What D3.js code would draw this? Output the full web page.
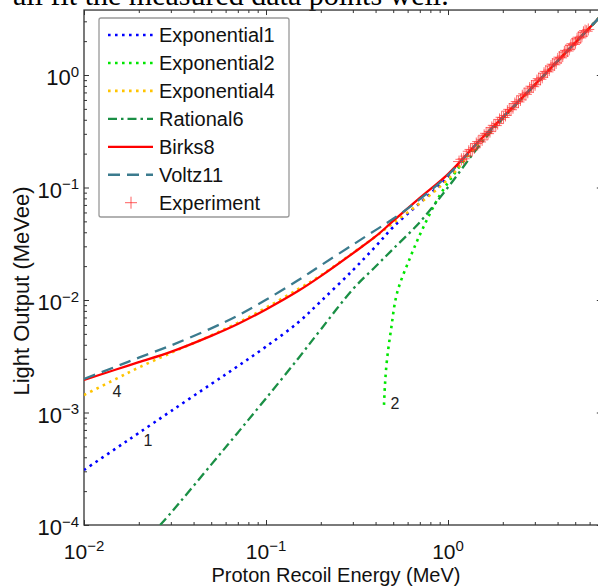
<!DOCTYPE html>
<html>
<head>
<meta charset="utf-8">
<script src="https://cdn.jsdelivr.net/npm/d3@7"></script>
<style>
body { margin: 0; background: #fff; }
svg { display: block; }
</style>
</head>
<body>
<script>
// values (proton energy in MeV, light output in MeVee)
var energyGrid   = [0.01, 0.015, 0.02, 0.03, 0.05, 0.07, 0.1, 0.15, 0.2, 0.3, 0.4, 0.5, 0.7, 1, 1.5, 2, 3, 4, 5, 7];
var exponential1 = [0.000308, 0.00048, 0.000658, 0.001026, 0.00179, 0.00258, 0.00385, 0.0063, 0.00973, 0.0184, 0.0299, 0.0445, 0.0728, 0.124, 0.255, 0.418, 0.818, 1.33, 1.935, 3.41];
var exponential4 = [0.00143, 0.00199, 0.00251, 0.00338, 0.00485, 0.00627, 0.00855, 0.01247, 0.01655, 0.0262, 0.0367, 0.0483, 0.0725, 0.1186, 0.258, 0.42, 0.818, 1.33, 1.935, 3.41];
var birks8       = [0.00195, 0.00241, 0.0028, 0.00346, 0.0048, 0.00612, 0.00824, 0.012, 0.0163, 0.026, 0.0367, 0.0504, 0.0807, 0.1316, 0.264, 0.422, 0.82, 1.33, 1.935, 3.41];
var voltz11      = [0.00199, 0.00256, 0.00307, 0.00394, 0.0056, 0.00727, 0.01004, 0.01497, 0.0203, 0.031, 0.0418, 0.0527, 0.0787, 0.129, 0.264, 0.422, 0.82, 1.33, 1.935, 3.41];

var rational6E = [0.0262, 0.03, 0.05, 0.07, 0.1, 0.15, 0.2, 0.3, 0.4, 0.5, 0.7, 1, 1.5, 2, 3, 4, 5, 7];
var rational6  = [0.0001, 0.000128, 0.000344, 0.000662, 0.001337, 0.00301, 0.00547, 0.01247, 0.01986, 0.0285, 0.0492, 0.1004, 0.24, 0.41, 0.815, 1.33, 1.935, 3.41];

var exponential2E = [0.445, 0.4505, 0.462, 0.486, 0.525, 0.618, 0.729, 0.904, 1.121, 1.406, 1.7, 2, 3, 4, 5, 7];
var exponential2  = [0.00117, 0.00176, 0.00293, 0.00541, 0.01154, 0.0236, 0.0437, 0.0858, 0.143, 0.234, 0.324, 0.418, 0.818, 1.33, 1.935, 3.41];

var experimentE = [1.15, 1.185, 1.22, 1.26, 1.30, 1.33, 1.36, 1.395, 1.43, 1.465, 1.50, 1.54, 1.58, 1.62, 1.66, 1.70, 1.74, 1.785,
  1.83, 1.875, 1.92, 1.97, 2.02, 2.07, 2.12, 2.17, 2.22, 2.275, 2.33, 2.385, 2.44, 2.50, 2.56, 2.62, 2.68, 2.745,
  2.81, 2.875, 2.94, 3.01, 3.08, 3.15, 3.22, 3.295, 3.37, 3.445, 3.52, 3.60, 3.68, 3.76, 3.84, 3.925, 4.01, 4.095,
  4.18, 4.27, 4.36, 4.45, 4.54, 4.635, 4.73, 4.825, 4.92, 5.02, 5.12, 5.225, 5.33, 5.44, 5.55, 5.665, 5.78, 5.90];
var experimentL = [0.170, 0.178, 0.180, 0.190, 0.210, 0.218, 0.216, 0.225, 0.246, 0.256, 0.254, 0.265, 0.291, 0.303, 0.301, 0.314, 0.342, 0.357,
  0.355, 0.370, 0.403, 0.421, 0.419, 0.437, 0.477, 0.495, 0.491, 0.512, 0.558, 0.580, 0.576, 0.600, 0.654, 0.680, 0.673, 0.702,
  0.765, 0.795, 0.787, 0.819, 0.892, 0.927, 0.917, 0.953, 1.037, 1.077, 1.066, 1.106, 1.203, 1.248, 1.232, 1.279, 1.390, 1.440,
  1.421, 1.473, 1.600, 1.656, 1.633, 1.690, 1.834, 1.897, 1.869, 1.934, 2.096, 2.168, 2.138, 2.212, 2.398, 2.480, 2.450, 2.540];

var legendNames = ["Exponential1", "Exponential2", "Exponential4", "Rational6", "Birks8", "Voltz11", "Experiment"];
var xMajor = [0.01, 0.1, 1];
var yMajor = [1e-4, 1e-3, 1e-2, 1e-1, 1];

var width = 598, height = 586;
var font = "'Liberation Sans', Arial, Helvetica, sans-serif";

var x = d3.scaleLog().domain([0.01, 7]).range([84, 84 + 182 * Math.log10(700)]);
var y = d3.scaleLog().domain([1e-4, 3.78]).range([525, 525 - 112.5 * Math.log10(37800)]);

var x0 = x.range()[0], x1 = x.range()[1], yB = y.range()[0], yT = y.range()[1];

var svg = d3.select("body").append("svg")
  .attr("width", width).attr("height", height)
  .style("font-family", font);

// cropped sentence of the surrounding page text
svg.append("text")
  .attr("x", 13).attr("y", 5)
  .style("font-family", "'Liberation Serif', 'Times New Roman', serif")
  .style("font-size", "30px")
  .text("all fit the measured data points well.");

svg.append("defs").append("clipPath").attr("id", "plotclip")
  .append("rect").attr("x", x0).attr("y", yT).attr("width", x1 - x0).attr("height", yB - yT);

// minor ticks
function minors(lo, hi) {
  var out = [];
  for (var p = lo; p < hi; p++) for (var m = 2; m <= 9; m++) out.push(m * Math.pow(10, p));
  return out;
}
var xMinor = minors(-2, 1).filter(function(v) { return v < 7; });
var yMinor = minors(-4, 1).filter(function(v) { return v < 3.78; });

function tickGroup(axis, tx, ty) {
  var g = svg.append("g").attr("transform", "translate(" + tx + "," + ty + ")").call(axis);
  g.select(".domain").remove();
  g.selectAll("line").attr("stroke", "#333").attr("stroke-width", 1);
  return g;
}
tickGroup(d3.axisBottom(x).tickValues(xMajor).tickSize(-5).tickFormat(""), 0, yB);
tickGroup(d3.axisBottom(x).tickValues(xMinor).tickSize(-3).tickFormat(""), 0, yB);
tickGroup(d3.axisTop(x).tickValues(xMajor).tickSize(-5).tickFormat(""), 0, yT);
tickGroup(d3.axisTop(x).tickValues(xMinor).tickSize(-3).tickFormat(""), 0, yT);
tickGroup(d3.axisLeft(y).tickValues(yMajor).tickSize(-5).tickFormat(""), x0, 0);
tickGroup(d3.axisLeft(y).tickValues(yMinor).tickSize(-3).tickFormat(""), x0, 0);
tickGroup(d3.axisRight(y).tickValues(yMajor).tickSize(-5).tickFormat(""), x1, 0);
tickGroup(d3.axisRight(y).tickValues(yMinor).tickSize(-3).tickFormat(""), x1, 0);

svg.append("rect")
  .attr("x", x0).attr("y", yT).attr("width", x1 - x0).attr("height", yB - yT)
  .attr("fill", "none").attr("stroke", "#333").attr("stroke-width", 1.3);

// tick labels 10^n
function powLabel(sel, v) {
  var e = Math.round(Math.log10(v));
  sel.append("tspan").text("10");
  sel.append("tspan").attr("dy", "-0.55em").style("font-size", "15px")
    .text(e < 0 ? "\u2212" + (-e) : String(e));
}
xMajor.forEach(function(v) {
  var t = svg.append("text").attr("x", x(v)).attr("y", 559)
    .attr("text-anchor", "middle").style("font-size", "21px").attr("fill", "#111");
  powLabel(t, v);
});
yMajor.forEach(function(v) {
  var t = svg.append("text").attr("x", 79).attr("y", y(v) + 10)
    .attr("text-anchor", "end").style("font-size", "22px").attr("fill", "#111");
  powLabel(t, v);
});

// axis titles
svg.append("text")
  .attr("x", (x0 + 598) / 2 - 5).attr("y", 582)
  .attr("text-anchor", "middle").style("font-size", "20px").attr("fill", "#111")
  .text("Proton Recoil Energy (MeV)");
svg.append("text")
  .attr("transform", "translate(29," + 291 + ") rotate(-90)")
  .attr("text-anchor", "middle").style("font-size", "22px").attr("fill", "#111")
  .text("Light Output (MeVee)");

// curves
var line = d3.line()
  .x(function(d) { return x(d[0]); })
  .y(function(d) { return y(d[1]); })
  .curve(d3.curveCatmullRom.alpha(0.5));

function pairs(es, ls) { return es.map(function(e, i) { return [e, ls[i]]; }); }

var styles = [
  { name: "Exponential1", data: pairs(energyGrid, exponential1), color: "#0000ff", dash: "2.6,4.4", w: 2.6 },
  { name: "Exponential2", data: pairs(exponential2E, exponential2), color: "#00e600", dash: "2.6,4.4", w: 2.6 },
  { name: "Exponential4", data: pairs(energyGrid, exponential4), color: "#ffc400", dash: "2.6,4.4", w: 2.6 },
  { name: "Rational6", data: pairs(rational6E, rational6), color: "#1a8f45", dash: "9,4,2.5,4", w: 2.3 },
  { name: "Birks8", data: pairs(energyGrid, birks8), color: "#ff0000", dash: null, w: 2.3 },
  { name: "Voltz11", data: pairs(energyGrid, voltz11), color: "#3b7b8e", dash: "12,7", w: 2.3 }
];

var plot = svg.append("g").attr("clip-path", "url(#plotclip)");
styles.forEach(function(s) {
  plot.append("path")
    .attr("d", line(s.data))
    .attr("fill", "none")
    .attr("stroke", s.color)
    .attr("stroke-width", s.w)
    .attr("stroke-dasharray", s.dash);
});

var plus = "M-6,0H6M0,-6V6";
plot.selectAll(".exp")
  .data(pairs(experimentE, experimentL))
  .enter().append("path")
  .attr("class", "exp")
  .attr("transform", function(d) { return "translate(" + x(d[0]) + "," + y(d[1]) + ")"; })
  .attr("d", plus)
  .attr("stroke", "#ff2a2a")
  .attr("stroke-opacity", 0.7)
  .attr("stroke-width", 1)
  .attr("fill", "none");

// curve labels
[["4", 117, 391], ["1", 148, 440], ["2", 395, 403]].forEach(function(l) {
  svg.append("text").attr("x", l[1]).attr("y", l[2])
    .attr("text-anchor", "middle").attr("dominant-baseline", "central")
    .style("font-size", "16px").attr("fill", "#222").text(l[0]);
});

// legend
var leg = svg.append("g");
leg.append("rect")
  .attr("x", 99).attr("y", 18).attr("width", 190).attr("height", 199)
  .attr("rx", 2).attr("fill", "#fff").attr("stroke", "#999").attr("stroke-width", 1.3);

legendNames.forEach(function(name, i) {
  var cy = 35 + i * 27.95;
  var s = styles[i];
  if (s) {
    leg.append("line")
      .attr("x1", 108).attr("x2", 153).attr("y1", cy).attr("y2", cy)
      .attr("stroke", s.color).attr("stroke-width", s.w)
      .attr("stroke-dasharray", s.dash);
  } else {
    leg.append("path").attr("transform", "translate(131," + cy + ")")
      .attr("d", plus).attr("stroke", "#ff2a2a").attr("stroke-opacity", 0.75)
      .attr("stroke-width", 1).attr("fill", "none");
  }
  leg.append("text").attr("x", 159).attr("y", cy + 7)
    .style("font-size", "20px").attr("fill", "#111").text(name);
});
</script>
</body>
</html>
